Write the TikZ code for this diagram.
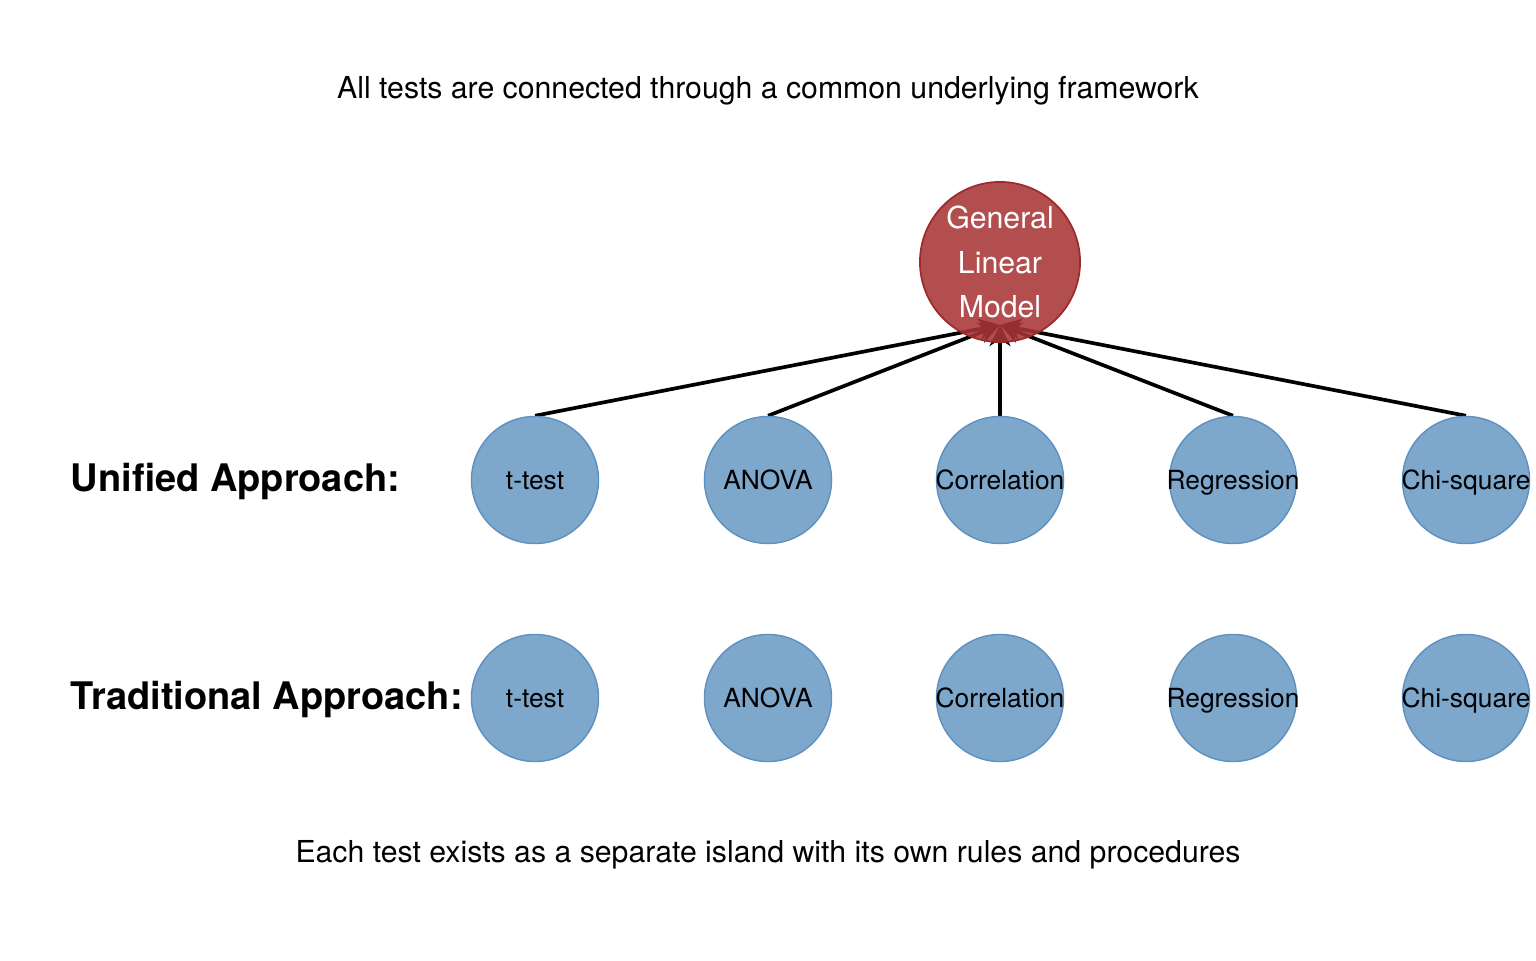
\documentclass[tikz,border=0pt]{standalone}
\usepackage{fontspec}
\setmainfont{TeX Gyre Heros}
\usepackage{xcolor}
\usepackage{tikz}
\usetikzlibrary{arrows.meta,backgrounds}
\definecolor{GLRed}{HTML}{A83537}
\definecolor{GLRedLine}{HTML}{9E2A2E}
\definecolor{GLBlue}{HTML}{7DA7CB}
\definecolor{GLBlueLine}{HTML}{5E90C0}
\tikzset{
  testnode/.style={circle,draw=GLBlueLine,fill=GLBlue,line width=0.4pt,minimum size=1.27cm,inner sep=-6pt,text height=0.72em,text depth=0.2em,font=\fontsize{7.5}{8}\selectfont},
  glmnode/.style={circle,draw=GLRedLine,fill=GLRed,fill opacity=0.88,text opacity=1,line width=0.5pt,minimum size=1.6cm,inner sep=-6pt,align=center,text=white,font=\fontsize{8.6}{12.6}\selectfont},
  link/.style={line width=1.05pt,-{Stealth[length=6pt,width=6pt]}},
  rowlabel/.style={anchor=west,inner sep=0pt,font=\fontsize{10.8}{12}\selectfont\bfseries},
  caption/.style={font=\fontsize{8.6}{10}\selectfont}
}
\begin{document}
\begin{tikzpicture}[x=0.01cm,y=0.01cm]
\path[use as bounding box] (0,0) rectangle (1536,960);
% captions
\node[caption] (top) at (768,869) {All tests are connected through a common underlying framework};
\node[caption] (bottom) at (768,105) {Each test exists as a separate island with its own rules and procedures};
% row labels
\node[rowlabel] (unified) at (70,479) {Unified Approach:};
\node[rowlabel] (traditional) at (70,261) {Traditional Approach:};
% general linear model
\node[glmnode] (glm) at (1000,698) {General\\Linear\\Model};
\coordinate (hub) at (1000,635);
% unified row
\node[testnode] (u1) at (535,480) {t-test};
\node[testnode] (u2) at (768,480) {ANOVA};
\node[testnode] (u3) at (1000,480) {Correlation};
\node[testnode] (u4) at (1233,480) {Regression};
\node[testnode] (u5) at (1466,480) {Chi-square};
% traditional row
\node[testnode] (t1) at (535,262) {t-test};
\node[testnode] (t2) at (768,262) {ANOVA};
\node[testnode] (t3) at (1000,262) {Correlation};
\node[testnode] (t4) at (1233,262) {Regression};
\node[testnode] (t5) at (1466,262) {Chi-square};
% links to the model
\begin{scope}[on background layer]
\foreach \n in {u1,u2,u3,u4,u5}
  \draw[link] (\n.north) -- (hub);
\end{scope}
\end{tikzpicture}
\end{document}
